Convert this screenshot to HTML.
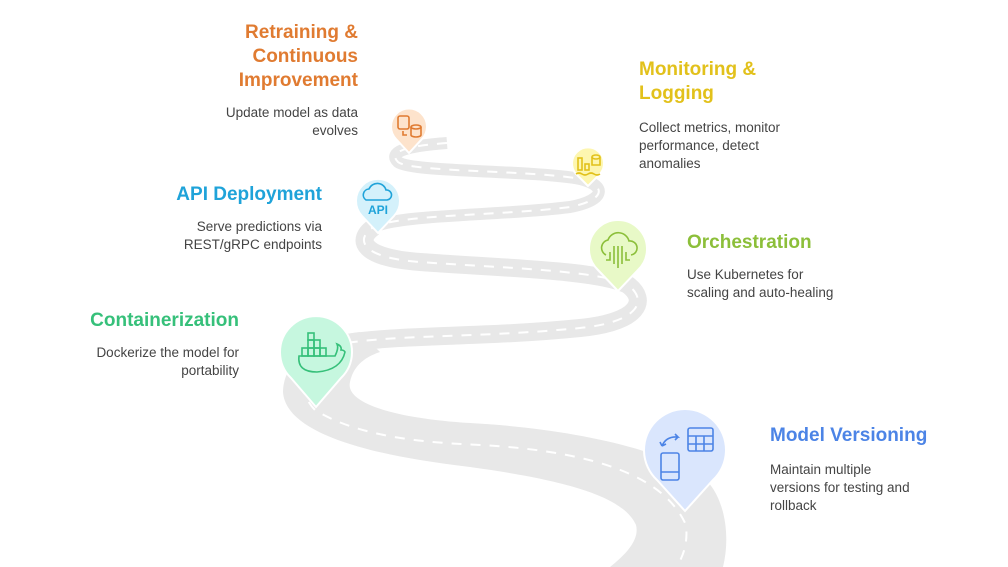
<!DOCTYPE html>
<html><head><meta charset="utf-8"><style>
body{margin:0;width:1008px;height:567px;background:#fff;position:relative;overflow:hidden;font-family:"Liberation Sans",sans-serif}
.t{position:absolute;font-weight:bold;font-size:19px;line-height:24px;white-space:nowrap}
.d{position:absolute;font-size:13.5px;line-height:18px;color:#444;white-space:nowrap}
.r{text-align:right}
</style></head><body>
<svg width="1008" height="567" style="position:absolute;left:0;top:0">
<g fill="none" stroke="#e8e8e8" stroke-linecap="butt">
<path d="M447,143 C405,146 388,152 398,162 C410,172 520,170 575,178 C608,184 607,200 570,207 C500,216 395,214 372,228" stroke-width="12"/>
<path d="M374,227 C355,240 362,258 420,262 C500,268 600,270 628,285 C648,300 640,322 580,328 C480,338 400,334 340,344" stroke-width="18"/>
</g>
<path d="M360,332 C310,338 283,365 283,392 C285,425 340,452 470,467 C580,482 625,500 636,525 C640,540 625,555 610,567 L723,567 C732,530 722,490 700,475 C650,445 560,428 470,423 C390,418 345,402 350,382 C353,368 362,358 380,352 Z" fill="#e8e8e8"/>
<g fill="none" stroke="#fff" stroke-width="2" stroke-dasharray="10 9">
<path d="M447,143 C405,146 388,152 398,162 C410,172 520,170 575,178 C608,184 607,200 570,207 C500,216 395,214 372,228 C355,240 362,258 420,262 C500,268 600,270 628,285 C648,300 640,322 580,328 C480,338 400,334 340,344 C300,356 295,390 315,410 C360,438 430,443 482,445 C600,452 665,478 686,525 C688,545 683,555 677,567"/>
</g>
<g stroke="#fff" stroke-width="2">
<path d="M409,153 L396,139 A18,18 0 1 1 422,139 Z" fill="#fde3cc"/>
<path d="M588,186 L576,174 A16,16 0 1 1 600,174 Z" fill="#fdf6b0"/>
<path d="M378,233 L362,216 A22,22 0 1 1 394,216 Z" fill="#d4f1fb"/>
<path d="M618,291 L598,270 A29,29 0 1 1 638,270 Z" fill="#e8f9c7"/>
<path d="M316,407 L291,378 A36,36 0 1 1 341,378 Z" fill="#c6f7df"/>
<path d="M685,511 L657,480 A41,41 0 1 1 713,480 Z" fill="#dae6fd"/>
</g>
<g fill="none" stroke-width="1.6">
<g stroke="#e07b31"><rect x="398" y="116" width="11" height="13" rx="2"/><ellipse cx="416" cy="127" rx="5" ry="2"/><path d="M411,127v8a5,2 0 0 0 10,0v-8M403,131v4h4"/></g>
<g stroke="#e2c11b"><rect x="578" y="158" width="4" height="12"/><rect x="585" y="164" width="4" height="6"/><ellipse cx="596" cy="157" rx="4" ry="2"/><path d="M592,157v8h8v-8M576,174q3,-2 6,0t6,0t6,0t6,0"/></g>
<g stroke="#1fa3d9"><path d="M366,200 a6,6 0 0 1 3,-11 a9,9 0 0 1 17,1 a5,5 0 0 1 1,10 Z"/></g>
<g stroke="#8cbf3a"><path d="M606,255 a8,8 0 0 1 2,-15 a11,11 0 0 1 21,1 a7,7 0 0 1 2,14 M614,246v18M618,246v22M622,246v18M610,252v8h-4M626,252v8h4"/></g>
<g stroke="#36c07a"><path d="M299,356h36q4,-8 2,-12q5,2 4,6q3,0 4,2q-4,18 -28,20q-20,0 -18,-16z"/><rect x="302" y="348" width="6" height="8"/><rect x="308" y="348" width="6" height="8"/><rect x="314" y="348" width="6" height="8"/><rect x="320" y="348" width="6" height="8"/><rect x="308" y="340" width="6" height="8"/><rect x="314" y="340" width="6" height="8"/><rect x="308" y="333" width="6" height="7"/></g>
<g stroke="#4c84e6"><rect x="688" y="428" width="25" height="23" rx="2"/><path d="M688,436h25M688,444h25M696,436v15M704,436v15M662,446q4,-10 16,-9l-3,-3M678,437l-3,3M662,446l-2,-4M662,446l4,-2"/><rect x="661" y="453" width="18" height="27" rx="2"/><path d="M661,472h18"/></g>
</g>
<text x="378" y="214" font-family="Liberation Sans" font-weight="bold" font-size="12" fill="#1fa3d9" text-anchor="middle">API</text>
</svg>
<div class="t r" style="right:650px;top:21px;color:#e07b31">Retraining &amp;<br>Continuous<br>Improvement</div>
<div class="d r" style="right:650px;top:104px">Update model as data<br>evolves</div>
<div class="t" style="left:639px;top:58px;color:#e2c11b">Monitoring &amp;<br>Logging</div>
<div class="d" style="left:639px;top:119px">Collect metrics, monitor<br>performance, detect<br>anomalies</div>
<div class="t r" style="right:686px;top:183px;color:#1fa3d9">API Deployment</div>
<div class="d r" style="right:686px;top:218px">Serve predictions via<br>REST/gRPC endpoints</div>
<div class="t" style="left:687px;top:231px;color:#8cbf3a">Orchestration</div>
<div class="d" style="left:687px;top:266px">Use Kubernetes for<br>scaling and auto-healing</div>
<div class="t r" style="right:769px;top:309px;color:#36c07a">Containerization</div>
<div class="d r" style="right:769px;top:344px">Dockerize the model for<br>portability</div>
<div class="t" style="left:770px;top:424px;color:#4c84e6">Model Versioning</div>
<div class="d" style="left:770px;top:461px">Maintain multiple<br>versions for testing and<br>rollback</div>
</body></html>
